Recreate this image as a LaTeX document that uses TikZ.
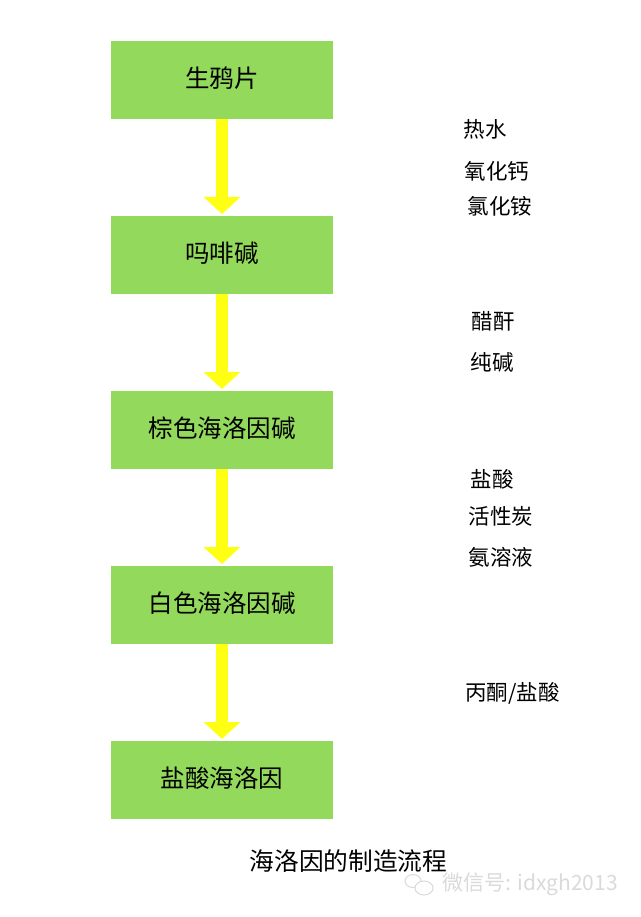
\documentclass[tikz,border=0pt]{standalone}
\usepackage{fontspec}
\setmainfont{Noto Sans CJK SC}
\usetikzlibrary{positioning,arrows.meta}
\definecolor{boxgreen}{HTML}{92D95C}
\definecolor{arrowyellow}{HTML}{FFFF14}
\definecolor{markgray}{HTML}{DADADA}

\begin{document}
\begin{tikzpicture}[
    x=1pt, y=1pt,
    stepbox/.style={fill=boxgreen, minimum width=222pt, minimum height=78pt, inner sep=0pt, outer sep=0pt, text height=20pt, text depth=5pt, font=\fontsize{24.5}{24.5}\selectfont},
    flow/.style={arrowyellow, line width=12pt, shorten >=2pt, -{Triangle[width=36pt,length=17pt]}},
    reagent/.style={inner sep=0pt, font=\fontsize{21.5}{21.5}\selectfont}]
\useasboundingbox (0,0) rectangle (640,-917);
\fill[white] (0,0) rectangle (640,-917);

\node[stepbox] at (222,-80) (opium) {生鸦片};
\node[stepbox, below=97pt of opium] (morphine) {吗啡碱};
\node[stepbox, below=97pt of morphine] (brown) {棕色海洛因碱};
\node[stepbox, below=97pt of brown] (white) {白色海洛因碱};
\node[stepbox, below=97pt of white] (salt) {盐酸海洛因};

\draw[flow] (opium) -- (morphine);
\draw[flow] (morphine) -- (brown);
\draw[flow] (brown) -- (white);
\draw[flow] (white) -- (salt);

% reagents
\node[reagent] at (485,-129.5) (water) {热水};
\node[reagent] at (497,-171.5) (cao) {氧化钙};
\node[reagent] at (500,-206.5) (nh4cl) {氯化铵};

\node[reagent] at (493,-321.5) (acetic) {醋酐};
\node[reagent] at (492,-362.5) (soda) {纯碱};

\node[reagent] at (492,-479.5) (hcl) {盐酸};
\node[reagent] at (501,-516.5) (carbon) {活性炭};
\node[reagent] at (501,-557.5) (ammonia) {氨溶液};

\node[reagent] at (512.5,-693.5) (acetone) {丙酮/盐酸};

\node[inner sep=0pt, font=\fontsize{24.7}{24.7}\selectfont] at (348.5,-861) (title) {海洛因的制造流程};

% watermark
\node[inner sep=0pt, markgray, font=\fontsize{21}{21}\selectfont] at (530,-884) (mark) {微信号: idxgh2013};
\draw[markgray, line width=1pt] (413,-881) ellipse (8 and 6.5);
\draw[markgray, line width=1pt, fill=white] (424,-888) ellipse (9 and 7);
\end{tikzpicture}
\end{document}
